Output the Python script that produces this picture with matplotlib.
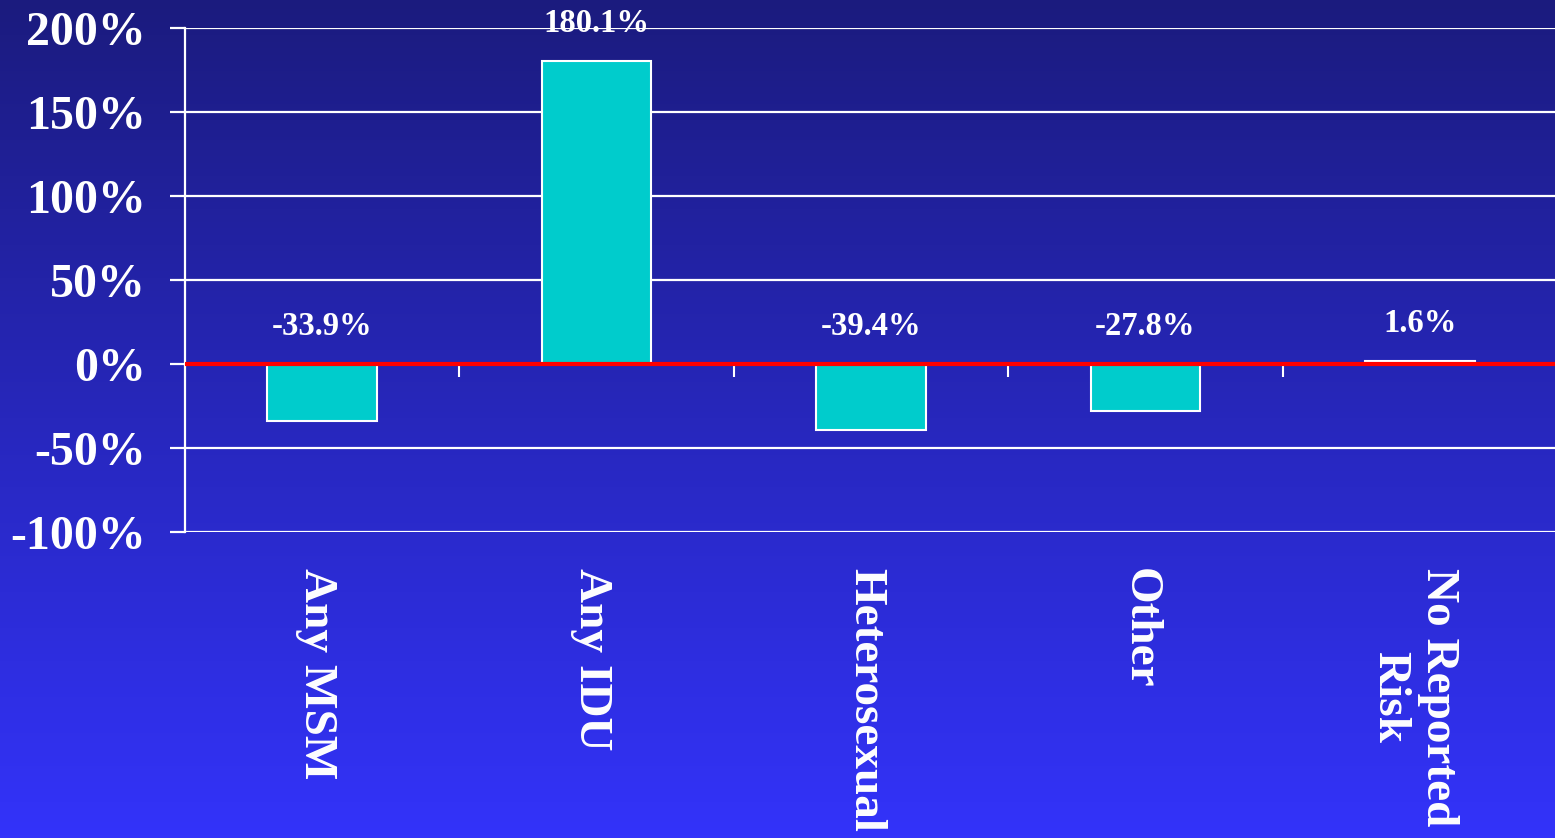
import matplotlib.pyplot as plt
import numpy as np

# Categorías y cambio porcentual
categorias = ['Any MSM', 'Any IDU', 'Heterosexual', 'Other', 'No Reported\nRisk']
cambio = [-33.9, 180.1, -39.4, -27.8, 1.6]
etiquetas = ['-33.9%', '180.1%', '-39.4%', '-27.8%', '1.6%']
yticks = [-100, -50, 0, 50, 100, 150, 200]

plt.rcParams['font.family'] = ['Liberation Serif', 'DejaVu Serif']
plt.rcParams['font.weight'] = 'bold'

fig = plt.figure(figsize=(15.55, 8.38), dpi=100)

# Fondo con degradado vertical
fondo = fig.add_axes([0, 0, 1, 1], zorder=-10)
arriba = np.array([0x1b, 0x1b, 0x7e]) / 255
abajo = np.array([0x33, 0x33, 0xfa]) / 255
t = np.linspace(0, 1, 256)[:, None]
grad = arriba * (1 - t) + abajo * t
fondo.imshow(grad[:, None, :], aspect='auto', extent=[0, 1, 0, 1])
fondo.axis('off')

ax = fig.add_axes([185 / 1555, 306 / 838, 1372 / 1555, 504 / 838])
ax.set_facecolor('none')

x = np.arange(len(categorias))
ax.bar(x, cambio, width=0.4, color='#00CCCC', edgecolor='white',
       linewidth=1.5, zorder=3)

# Etiquetas de valor sobre cada barra (o sobre el cero si es negativa)
for xi, v, txt in zip(x, cambio, etiquetas):
    ax.annotate(txt, (xi, max(v, 0)), xytext=(0, 27), textcoords='offset points',
                ha='center', va='center', color='white', fontsize=23.5,
                fontweight='bold', zorder=5, annotation_clip=False)

ax.axhline(0, color='red', lw=3, zorder=4)
ax.vlines(x[:-1] + 0.5, -8, 0, color='white', lw=1.5, zorder=2)

ax.set_xlim(-0.5, len(categorias) - 0.5)
ax.set_ylim(-100, 200)
ax.set_yticks(yticks)
ax.set_yticklabels([f'{v}%' for v in yticks])
ax.grid(axis='y', color='white', lw=1.6, zorder=1)

# Nombres de categoría girados bajo el eje
ax.set_xticks(x)
ax.set_xticklabels([])
for xi, nombre in zip(x, categorias):
    ax.annotate(nombre, (xi, 0), xycoords=('data', 'axes fraction'),
                xytext=(-4.3, -26), textcoords='offset points',
                rotation=270, ha='center', va='top', multialignment='center',
                color='white', fontsize=34, fontweight='bold',
                annotation_clip=False)

ax.tick_params(axis='y', colors='white', labelsize=34.5, length=11, width=1.6, pad=17)
ax.tick_params(axis='x', length=0)

for s in ['top', 'right', 'bottom']:
    ax.spines[s].set_visible(False)
ax.spines['left'].set_color('white')
ax.spines['left'].set_linewidth(1.6)

plt.savefig('out.png', dpi=100)
plt.close(fig)
